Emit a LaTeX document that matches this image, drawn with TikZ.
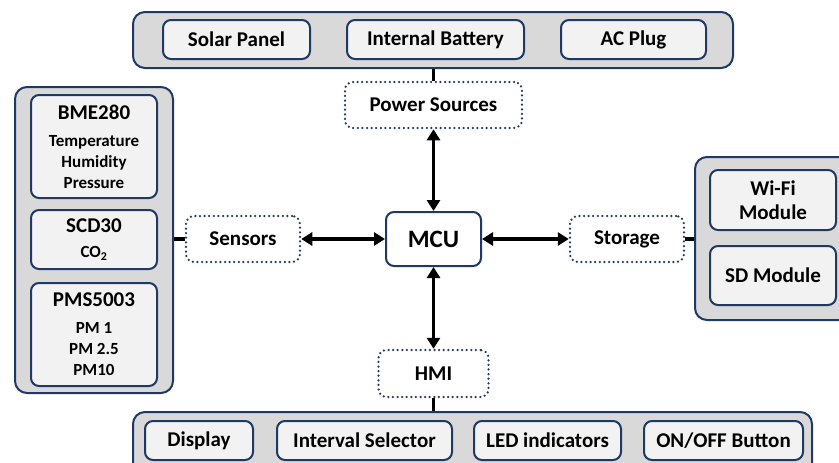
\documentclass[tikz,border=0pt]{standalone}
\usepackage{fontspec}
\setmainfont{Carlito}
\usetikzlibrary{arrows.meta,positioning}
\definecolor{Navy}{HTML}{1F3864}
\definecolor{PanelGray}{HTML}{D9D9D9}
\definecolor{ItemGray}{HTML}{F2F2F2}
\newcommand{\headtxt}{\fontsize{21}{22}\selectfont}

\begin{document}
\begin{tikzpicture}[
  x=1pt, y=-1pt,
  node distance=10pt and 21pt,
  group/.style={draw=Navy, line width=2pt, fill=PanelGray, rounded corners=12pt, inner sep=0pt},
  item/.style={draw=Navy, line width=2pt, fill=ItemGray, rounded corners=8pt, inner sep=0pt, minimum height=39pt, align=center, font=\fontsize{21}{24}\selectfont\bfseries},
  sensor/.style={item, minimum width=126pt, font=\fontsize{17}{21}\selectfont\bfseries},
  hub/.style={draw=Navy, line width=2.5pt, dash pattern=on 0pt off 4.6pt, line cap=round, rounded corners=8pt, fill=white, inner sep=0pt, minimum width=114pt, minimum height=46pt, font=\fontsize{21}{24}\selectfont\bfseries},
  core/.style={draw=Navy, line width=2pt, rounded corners=8pt, fill=white, inner sep=0pt, minimum width=95pt, minimum height=54pt, font=\fontsize{25}{28}\selectfont\bfseries},
  link/.style={line width=3.2pt, draw=black},
  arrow/.style={{Triangle[length=11pt,width=13pt]}-{Triangle[length=11pt,width=13pt]}, line width=3.2pt, draw=black}
]
  \useasboundingbox (0,0) rectangle (839,463);

  % power supply row
  \node[group, minimum width=600pt, minimum height=56pt] (supply) at (433,40) {};
  \node[item, minimum width=147pt] (solar) at (236.5,39.5) {Solar Panel};
  \node[item, minimum width=177pt, right=35pt of solar] (battery) {Internal Battery};
  \node[item, minimum width=145pt, right=35pt of battery] (acplug) {AC Plug};

  % sensor column
  \node[group, minimum width=158pt, minimum height=306pt] (sensing) at (94,240) {};
  \node[sensor, minimum height=103pt] (bme) at (94,146.5) {{\headtxt BME280}\\[6pt]Temperature\\Humidity\\Pressure};
  \node[sensor, minimum height=59pt, below=10pt of bme] (scd) {{\headtxt SCD30}\\[4pt]CO\textsubscript{2}};
  \node[sensor, minimum height=103pt, below=12pt of scd] (pms) {{\headtxt PMS5003}\\[6pt]PM 1\\PM 2.5\\PM10};

  % storage column
  \node[group, minimum width=156pt, minimum height=163pt] (saving) at (773,238.5) {};
  \node[item, minimum width=126pt, minimum height=60pt] (wifi) at (773,200) {Wi-Fi\\Module};
  \node[item, minimum width=126pt, minimum height=59pt, below=14pt of wifi] (sdcard) {SD Module};

  % user interface row
  \node[group, minimum width=679pt, minimum height=63pt] (interface) at (472.5,443.5) {};
  \node[item, minimum width=108pt] (display) at (199,440.5) {Display};
  \node[item, minimum width=175pt, right=22pt of display] (selector) {Interval Selector};
  \node[item, minimum width=147pt, right=20pt of selector] (leds) {LED indicators};
  \node[item, minimum width=159pt, right=21pt of leds] (onoff) {ON/OFF Button};

  % blocks round the MCU
  \node[core] (mcu) at (433.5,239) {MCU};
  \node[hub, minimum width=177pt] (power) at (433.5,105) {Power Sources};
  \node[hub] (sensors) at (243,239) {Sensors};
  \node[hub] (storage) at (627,239) {Storage};
  \node[hub, minimum width=110pt, minimum height=47pt] (hmi) at (433.5,373.5) {HMI};

  \draw[link] (power.north) -- (power.north |- supply.south);
  \draw[link] (sensors.west) -- (sensors.west -| sensing.east);
  \draw[link] (storage.east) -- (storage.east -| saving.west);
  \draw[link] (hmi.south) -- (hmi.south |- interface.north);

  \draw[arrow] (power) -- (mcu);
  \draw[arrow] (sensors) -- (mcu);
  \draw[arrow] (mcu) -- (storage);
  \draw[arrow] (mcu) -- (hmi);
\end{tikzpicture}
\end{document}
